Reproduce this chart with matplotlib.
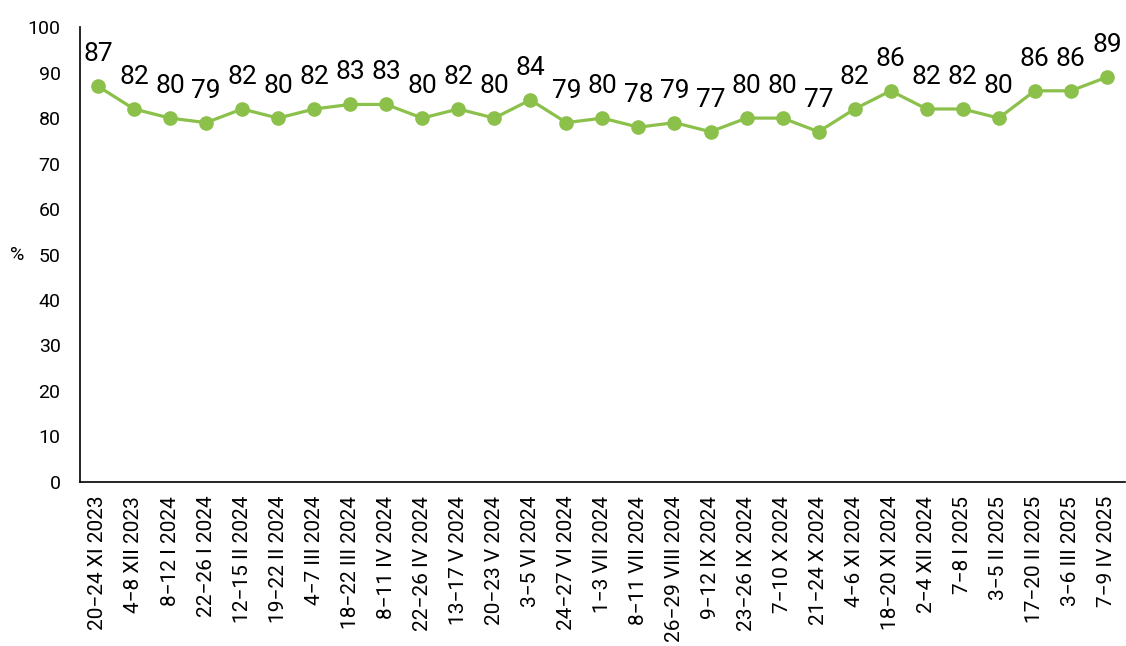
import numpy as np
import matplotlib.pyplot as plt

plt.rcParams['font.family'] = ['Roboto', 'DejaVu Sans']

# survey dates and share in %
dates = ['20\u221224 XI 2023', '4\u22128 XII 2023', '8\u221212 I 2024', '22\u221226 I 2024',
         '12\u221215 II 2024', '19\u221222 II 2024', '4\u22127 III 2024', '18\u221222 III 2024',
         '8\u221211 IV 2024', '22\u221226 IV 2024', '13\u221217 V 2024', '20\u221223 V 2024',
         '3\u22125 VI 2024', '24\u221227 VI 2024', '1\u22123 VII 2024', '8\u221211 VII 2024',
         '26\u221229 VIII 2024', '9\u221212 IX 2024', '23\u221226 IX 2024', '7\u221210 X 2024',
         '21\u221224 X 2024', '4\u22126 XI 2024', '18\u221220 XI 2024', '2\u22124 XII 2024',
         '7\u22128 I 2025', '3\u22125 II 2025', '17\u221220 II 2025', '3\u22126 III 2025',
         '7\u22129 IV 2025']
values = [87, 82, 80, 79, 82, 80, 82, 83, 83, 80, 82, 80, 84, 79, 80, 78, 79, 77,
          80, 80, 77, 82, 86, 82, 82, 80, 86, 86, 89]

green = '#8BC04A'

fig = plt.figure(figsize=(11.26, 6.46), dpi=100)
ax = fig.add_axes([0.071, 0.254, 0.928, 0.704])

x = np.arange(len(values))
ax.plot(x, values, color=green, lw=2.3, marker='o', ms=9.5, zorder=3)

# value labels above each point
for xi, v in zip(x, values):
    ax.annotate(str(v), (xi, v), xytext=(0, 18), textcoords='offset points',
                ha='center', va='baseline', fontsize=19)

ax.set_xlim(-0.5, len(values) - 0.5)
ax.set_ylim(0, 100)
ax.set_yticks(range(0, 101, 10))
ax.set_xticks(x)
ax.set_xticklabels(dates, rotation=90, fontsize=15)
ax.tick_params(axis='y', labelsize=14, length=0, pad=14)
ax.tick_params(axis='x', length=0, pad=10)
ax.set_ylabel('%', fontsize=14, rotation=0, va='center', ha='center')
ax.yaxis.set_label_coords(-0.060, 0.5)

ax.spines['top'].set_visible(False)
ax.spines['right'].set_visible(False)
ax.spines['left'].set_linewidth(1.2)
ax.spines['bottom'].set_linewidth(1.2)

fig.savefig('out.png', dpi=100)
